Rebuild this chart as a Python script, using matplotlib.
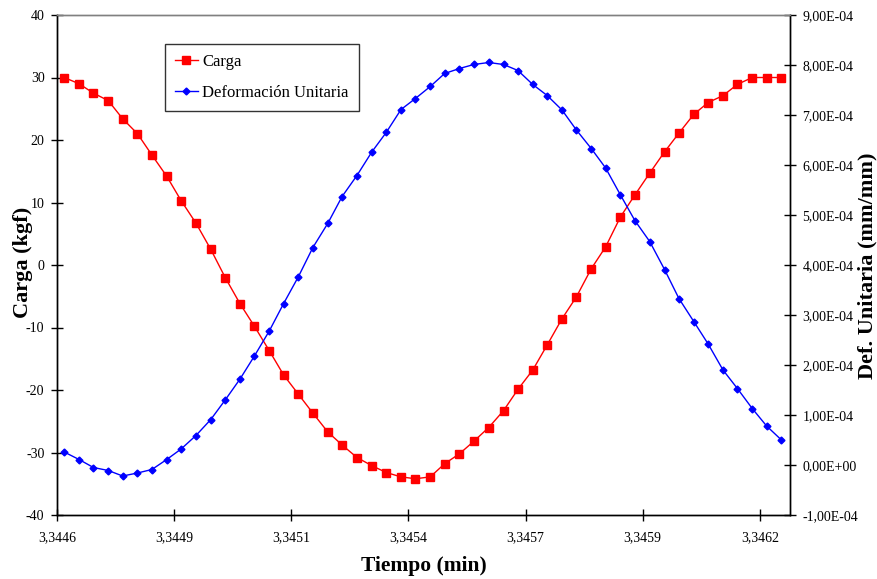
import numpy as np
import matplotlib
matplotlib.use("Agg")
import matplotlib.pyplot as plt
from matplotlib.ticker import FuncFormatter

plt.rcParams["font.family"] = ["Liberation Serif", "DejaVu Serif"]
plt.rcParams["axes.unicode_minus"] = False

# Tiempo de cada muestra (min)
tiempo = [
    3.344631, 3.344664, 3.344696, 3.344729, 3.344761, 3.344794, 3.344826, 3.344859,
    3.344891, 3.344924, 3.344957, 3.344989, 3.345022, 3.345054, 3.345087, 3.345119,
    3.345152, 3.345184, 3.345217, 3.345249, 3.345282, 3.345315, 3.345347, 3.345380,
    3.345412, 3.345445, 3.345477, 3.345510, 3.345542, 3.345575, 3.345608, 3.345640,
    3.345673, 3.345705, 3.345738, 3.345770, 3.345803, 3.345835, 3.345868, 3.345900,
    3.345933, 3.345966, 3.345998, 3.346031, 3.346063, 3.346096, 3.346128, 3.346161,
    3.346193, 3.346226,
]

# Carga (kgf)
carga = [
    30.0, 29.0, 27.5, 26.3, 23.4, 21.0, 17.6, 14.2, 10.3, 6.7,
    2.5, -2.0, -6.2, -9.8, -13.7, -17.6, -20.7, -23.7, -26.7, -28.8,
    -30.8, -32.1, -33.2, -33.9, -34.2, -33.9, -31.8, -30.2, -28.2, -26.0,
    -23.3, -19.9, -16.8, -12.8, -8.6, -5.1, -0.6, 2.9, 7.7, 11.2,
    14.7, 18.1, 21.1, 24.1, 26.0, 27.1, 28.9, 30.0, 30.0, 30.0,
]

# Deformación unitaria (x 1e-4 mm/mm)
deformacion_e4 = [
    0.26, 0.11, -0.05, -0.11, -0.22, -0.16, -0.09, 0.11, 0.32, 0.59,
    0.91, 1.30, 1.72, 2.18, 2.68, 3.23, 3.77, 4.35, 4.83, 5.37,
    5.79, 6.26, 6.65, 7.11, 7.33, 7.57, 7.83, 7.93, 8.01, 8.05,
    8.01, 7.89, 7.61, 7.39, 7.10, 6.70, 6.33, 5.94, 5.40, 4.89,
    4.47, 3.91, 3.33, 2.87, 2.42, 1.90, 1.53, 1.13, 0.78, 0.50,
]
deformacion = np.array(deformacion_e4) * 1e-4

x_ticks = [3.344615, 3.344875, 3.345136, 3.345396, 3.345657, 3.345917, 3.346178]
x_labels = ["3,3446", "3,3449", "3,3451", "3,3454", "3,3457", "3,3459", "3,3462"]
x_lim = (3.344615, 3.346245)

W, H = 877, 579
fig = plt.figure(figsize=(W / 100, H / 100), dpi=100)
ax = fig.add_axes([57 / W, 1 - 515 / H, 733 / W, 500 / H])
ax2 = ax.twinx()

l1, = ax.plot(tiempo, carga, color="#FF0000", lw=1.0, marker="s", ms=5.2,
              mec="#FF0000", mfc="#FF0000", label="Carga")
l2, = ax2.plot(tiempo, deformacion, color="#0000FF", lw=1.0, marker="D", ms=3.5,
               mec="#0000FF", mfc="#0000FF", label="Deformación Unitaria")

ax.set_xlim(*x_lim)
ax.set_ylim(-40, 40)
ax.set_yticks(range(-40, 41, 10))
ax.set_xticks(x_ticks)
ax.set_xticklabels(x_labels)

ax2.set_ylim(-1e-4, 9e-4)
ax2.set_yticks(np.arange(-1, 10) * 1e-4)
ax2.yaxis.set_major_formatter(FuncFormatter(lambda v, p: f"{v:.2E}".replace(".", ",")))

for a in (ax, ax2):
    a.tick_params(direction="inout", length=8, width=1, labelsize=10, pad=5, color="black")
    for s in a.spines.values():
        s.set_linewidth(1.0)
    a.spines["top"].set_color("#808080")
ax.tick_params(axis="x", pad=8)

# titulos de ejes colocados a mano
fig.text(424 / W, 1 - 566 / H, "Tiempo (min)", fontsize=15.5, fontweight="bold",
         ha="center", va="center")
fig.text(23 / W, 1 - 262 / H, "Carga (kgf)", fontsize=16, fontweight="bold",
         rotation=90, ha="center", va="center")
fig.text(867 / W, 1 - 266 / H, "Def. Unitaria (mm/mm)", fontsize=16, fontweight="bold",
         rotation=90, ha="center", va="center")

leg = ax.legend(handles=[l1, l2], loc="upper left", bbox_to_anchor=(108 / 733, 1 - 29 / 500),
                fontsize=12, frameon=True, fancybox=False, shadow=False,
                handlelength=1.35, handletextpad=0.3, borderpad=0.6, labelspacing=0.9,
                borderaxespad=0)
leg.get_frame().set_edgecolor("black")
leg.get_frame().set_linewidth(1.0)

fig.savefig("out.png", dpi=100)
